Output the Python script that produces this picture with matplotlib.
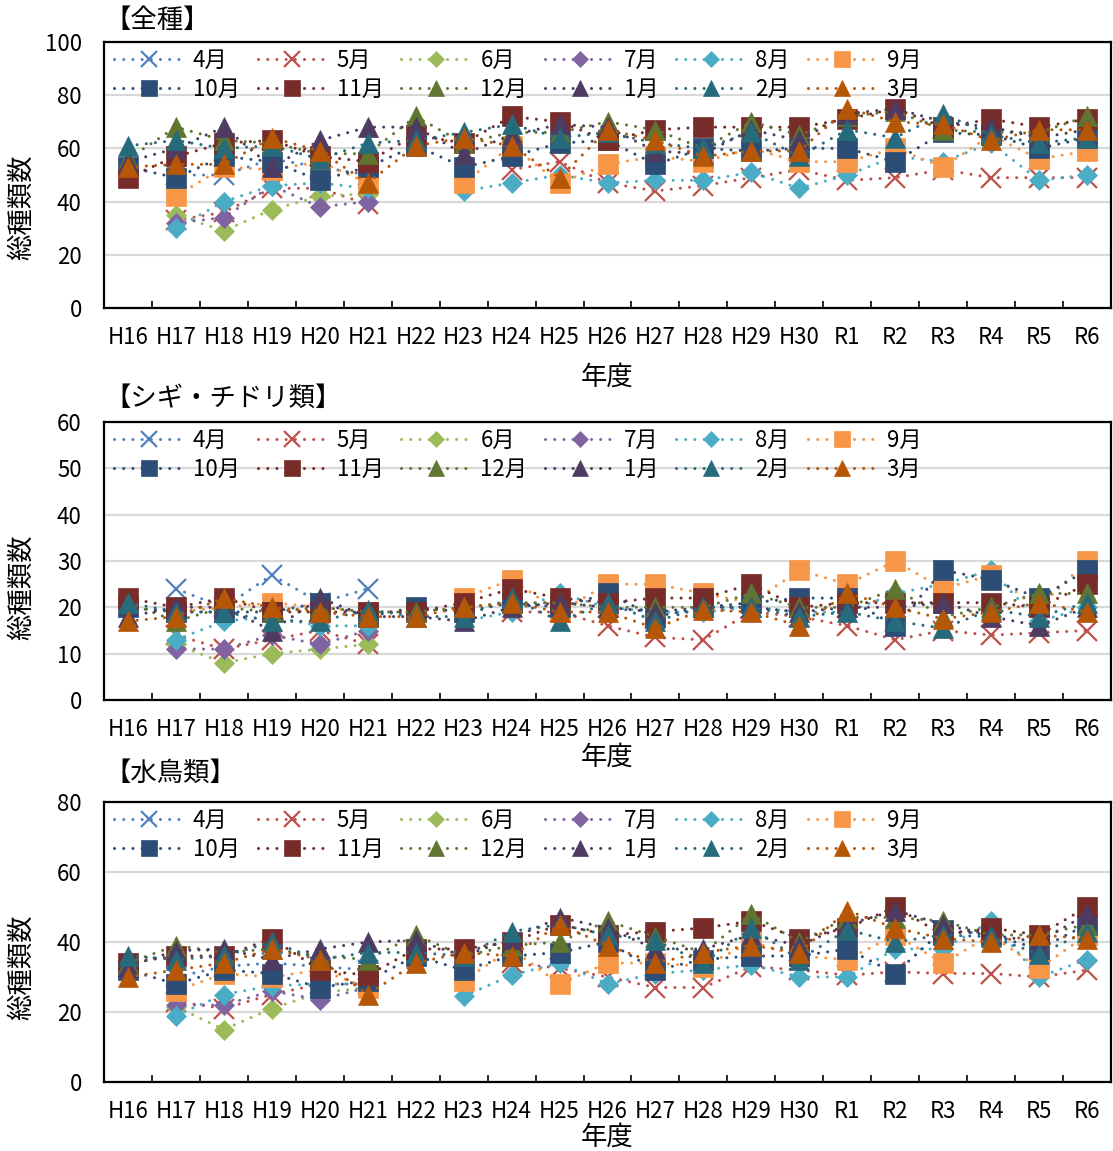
import numpy as np
import matplotlib
matplotlib.use('Agg')
from matplotlib import pyplot as plt

N = np.nan

years = ['H16', 'H17', 'H18', 'H19', 'H20', 'H21', 'H22', 'H23', 'H24', 'H25', 'H26',
         'H27', 'H28', 'H29', 'H30', 'R1', 'R2', 'R3', 'R4', 'R5', 'R6']
months = ['4月', '5月', '6月', '7月', '8月', '9月', '10月', '11月', '12月', '1月', '2月', '3月']
rest = [N] * 15  # H22 .. R6 for months only surveyed H17-H21

# 【全種】
all_apr = [N, 50, 50, 56, 53, 50] + rest
all_may = [N, 33, 36, 45, 45, 39, N, N, 52, 55, 47, 44, 46, 49, 52, 48, 49, 52, 49, 49, 49]
all_jun = [N, 35, 29, 37, 42, 43] + rest
all_jul = [N, 32, 34, 46, 38, 40] + rest
all_aug = [N, 30, 40, 46, 47, 45, N, 44, 47, 50, 47, 48, 48, 51, 45, 50, 57, 55, 62, 48, 50]
all_sep = [N, 42, 53, 52, 55, 47, N, 47, 61, 47, 54, 57, 55, 60, 55, 55, 60, 53, 65, 56, 59]
all_oct = [53, 49, 57, 55, 48, 53, 61, 53, 57, 62, 63, 54, 60, 59, 60, 60, 55, 66, 65, 60, 64]
all_nov = [49, 57, 62, 63, 57, 55, 65, 62, 72, 70, 63, 67, 68, 68, 68, 71, 75, 68, 71, 68, 71]
all_dec = [56, 68, 63, 62, 58, 58, 72, 62, 66, 66, 70, 67, 60, 70, 65, 72, 74, 67, 66, 66, 72]
all_jan = [55, 60, 68, 53, 63, 68, 68, 58, 65, 69, 68, 59, 58, 67, 63, 73, 75, 70, 68, 64, 67]
all_feb = [61, 63, 60, 61, 56, 62, 63, 66, 69, 64, 66, 62, 60, 66, 57, 67, 64, 73, 65, 62, 64]
all_mar = [53, 54, 54, 64, 59, 47, 61, 64, 61, 49, 67, 63, 57, 59, 59, 75, 70, 69, 63, 67, 67]

# 【シギ・チドリ類】
sg_apr = [N, 24, 20, 27, 21, 24] + rest
sg_may = [N, 14, 11, 13, 15, 12, N, N, 19, 19, 16, 13.5, 13, 19, 18, 16, 13, 15, 14, 14.5, 15]
sg_jun = [N, 12, 8, 10, 11, 12] + rest
sg_jul = [N, 11, 11, 14, 12, 15] + rest
sg_aug = [N, 13, 17, 18, 16, 16, N, 17, 19, 23, 20, 19, 19, 20, 19, 19, 23, 25, 28, 17, 20]
sg_sep = [N, 19, 20, 21, 20, 19, N, 22, 26, 19, 25, 25, 23, 21, 28, 25, 30, 24, 27, 20, 30]
sg_oct = [20, 19, 19, 19, 21, 18, 20, 19, 21, 20, 23, 18, 20, 21, 22, 22, 16, 28, 26, 22, 28]
sg_nov = [22, 20, 22, 19, 19, 19, 19, 21, 24, 22, 21, 22, 22, 25, 20, 21, 21, 21, 21, 20, 25]
sg_dec = [21, 17, 20, 19, 20, 19, 19, 20, 21, 21, 20, 20, 20, 23, 20, 20, 24, 18, 20, 23, 23]
sg_jan = [18, 20, 20, 15, 22, 18, 18, 17, 20, 21, 20, 19, 20, 20, 19, 20, 20, 21, 18, 16, 20]
sg_feb = [21, 19, 19, 17, 17, 19.5, 18, 18, 22, 17, 21, 17, 20, 20, 18, 19, 17, 15.5, 19.5, 18, 21]
sg_mar = [17, 18, 22, 20, 19, 18, 18, 20, 21, 19, 19, 15.5, 19.5, 19, 16, 23, 20, 17.5, 19, 21, 19]

# 【水鳥類】
wb_apr = [N, 30, 33, 34, 33, 32] + rest
wb_may = [N, 23, 21, 25, 28, 28, N, N, 34, 32.5, 30, 27, 27, 33, 32, 30.5, 31.5, 31, 31, 30, 32]
wb_jun = [N, 21.5, 15, 21, 25.5, 27] + rest
wb_jul = [N, 22, 22, 26, 23.5, 27] + rest
wb_aug = [N, 19, 25, 27.5, 28, 28, N, 24.5, 30.5, 34, 28, 31, 32, 33.5, 30, 30, 38, 38, 46, 30, 35]
wb_sep = [N, 26, 31, 30, 32, 27, N, 29, 38, 28, 34, 34, 33, 40, 36, 35, 42, 34, 42, 32.5, 42]
wb_oct = [32, 28, 32, 31, 27, 29, 36, 32, 36, 37, 40, 32, 35, 36, 36, 38, 31, 43.5, 42, 38, 45]
wb_nov = [34, 36, 36, 41, 32, 30.5, 38, 38, 40, 45, 42, 43, 44, 46, 41, 44, 50, 42, 44, 42, 50]
wb_dec = [34, 39, 37, 38, 36, 35, 42, 36, 39, 40, 46, 41.5, 37, 48, 40, 47, 47, 46, 42, 42, 45]
wb_jan = [33, 37.5, 38, 35, 38, 40, 40.5, 36, 41, 47, 44, 38, 38, 42, 39, 45, 49, 45, 42, 40, 48]
wb_feb = [36, 35, 36, 40, 35, 37, 37, 36, 43, 45, 42, 40.5, 34, 44, 35, 43.5, 40, 42, 41.5, 36.5, 43]
wb_mar = [30, 32, 34, 38, 35, 25, 34, 37, 36, 45, 39, 34, 37, 39, 37, 49, 44, 41, 40, 42, 41]

colors = ['#4F81BD', '#C0504D', '#9BBB59', '#8064A2', '#4BACC6', '#F79646',
          '#2C4D75', '#772C2A', '#5F7530', '#4D3B62', '#276A7C', '#B65708']
markers = ['x', 'x', 'D', 'D', 'D', 's', 's', 's', '^', '^', '^', '^']

plt.rcParams['font.family'] = ['Liberation Sans Narrow', 'Noto Sans CJK JP', 'DejaVu Sans']
JP = ['Noto Sans CJK JP', 'DejaVu Sans']

W, H = 1113, 1151


def draw_panel(ax, series, ymax, ystep, title, title_dy, xlabel_dy, ylabel_y):
    x = np.arange(len(years))
    handles = []
    for i, vals in enumerate(series):
        if markers[i] == 'x':
            ms, mew = 14, 1.6
        elif markers[i] == 'D':
            ms, mew = 10.5, 0.5
        else:
            ms, mew = 14, 0.5
        h, = ax.plot(x, vals, linestyle=(0, (0.01, 3)), lw=2.2, color=colors[i],
                     dash_capstyle='round', marker=markers[i], ms=ms,
                     mfc=colors[i], mec=colors[i], mew=mew, label=months[i])
        handles.append(h)
    # legend fills column by column, so interleave the two rows
    order = [0, 6, 1, 7, 2, 8, 3, 9, 4, 10, 5, 11]
    ax.legend([handles[k] for k in order], [months[k] for k in order], ncol=6,
              loc='upper left', bbox_to_anchor=(0.01, 0.975), frameon=False,
              prop={'family': ['Liberation Sans Narrow', 'Noto Sans CJK JP'], 'size': 16},
              handlelength=3.1, handletextpad=0.45, columnspacing=0.8,
              labelspacing=0.28, markerscale=0.82, borderpad=0, borderaxespad=0)

    ax.set_xlim(-0.5, len(years) - 0.5)
    ax.set_ylim(0, ymax)
    ax.set_yticks(np.arange(0, ymax + 1, ystep))
    ax.set_xticks(x)
    ax.set_xticklabels(years)
    ax.set_xticks(np.arange(0.5, len(years) - 0.5, 1), minor=True)
    ax.tick_params(axis='x', which='major', length=0, pad=13, labelsize=16)
    ax.tick_params(axis='x', which='minor', direction='in', length=5, width=1.2)
    ax.tick_params(axis='y', length=0, pad=16, labelsize=16)
    ax.yaxis.grid(True, color='#D9D9D9', lw=1.6)
    ax.set_axisbelow(True)
    for sp in ax.spines.values():
        sp.set_linewidth(1.6)
        sp.set_color('black')

    ax.set_ylabel('総種類数', family=JP, fontsize=19)
    ax.yaxis.set_label_coords(-0.068, ylabel_y)
    ax.text(0.5, xlabel_dy, '年度', transform=ax.transAxes, ha='center', va='center',
            family=JP, fontsize=19)
    ax.text(0.0, 1 + title_dy, title, transform=ax.transAxes, ha='left', va='center',
            family=JP, fontsize=19)


fig = plt.figure(figsize=(W / 100, H / 100), dpi=100)

def axes_px(left, right, top, bottom):
    return fig.add_axes([left / W, 1 - bottom / H, (right - left) / W, (bottom - top) / H])

ax1 = axes_px(104, 1111, 42, 308)
ax2 = axes_px(104, 1111, 422, 700)
ax3 = axes_px(104, 1111, 802, 1082)

draw_panel(ax1, [all_apr, all_may, all_jun, all_jul, all_aug, all_sep,
                 all_oct, all_nov, all_dec, all_jan, all_feb, all_mar],
           100, 20, '【全種】', 22 / 266, -69 / 266, 0.38)
draw_panel(ax2, [sg_apr, sg_may, sg_jun, sg_jul, sg_aug, sg_sep,
                 sg_oct, sg_nov, sg_dec, sg_jan, sg_feb, sg_mar],
           60, 10, '【シギ・チドリ類】', 24 / 278, -57 / 278, 0.406)
draw_panel(ax3, [wb_apr, wb_may, wb_jun, wb_jul, wb_aug, wb_sep,
                 wb_oct, wb_nov, wb_dec, wb_jan, wb_feb, wb_mar],
           80, 20, '【水鳥類】', 29 / 280, -55 / 280, 0.41)

fig.savefig('out.png', dpi=100)
